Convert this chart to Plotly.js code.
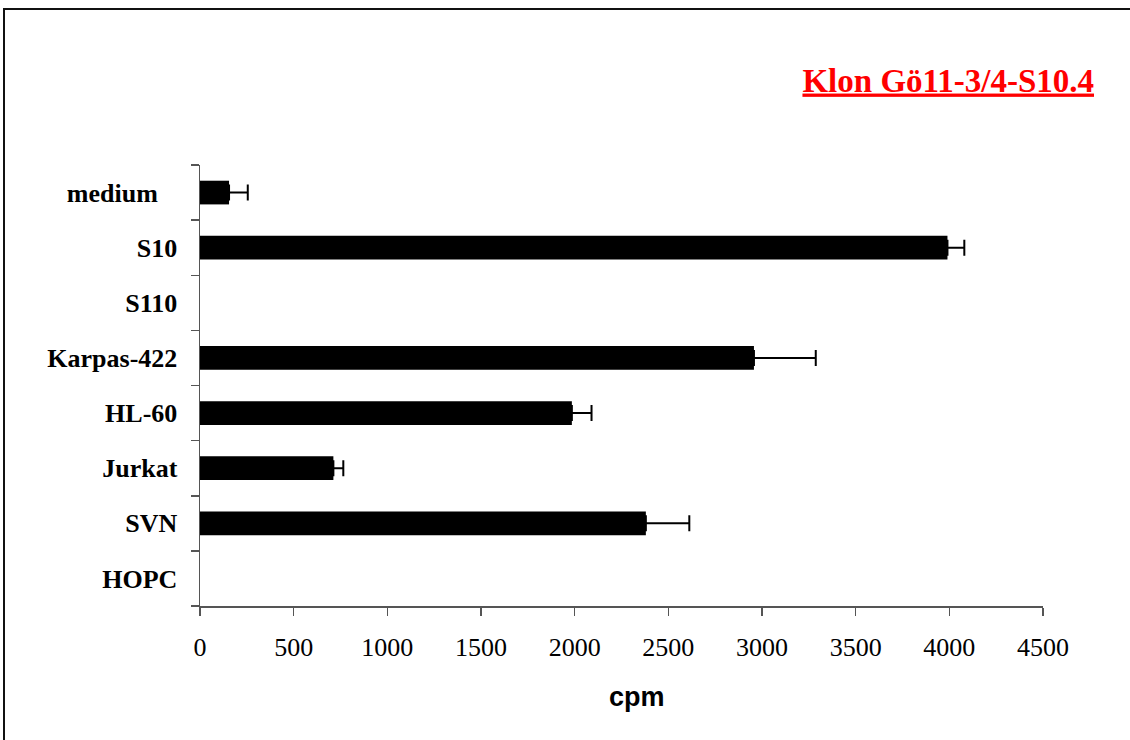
<!DOCTYPE html>
<html>
<head>
<meta charset="utf-8">
<script src="https://cdn.plot.ly/plotly-3.0.1.min.js"></script>
<style>html,body{margin:0;padding:0;background:#fff;}#chart{width:1130px;height:740px;}</style>
</head>
<body>
<div id="chart"></div>
<script>
const categories = ["medium", "S10", "S110", "Karpas-422", "HL-60", "Jurkat", "SVN", "HOPC"];
const categoryLabels = ["medium\u00a0\u00a0\u00a0", "S10", "S110", "Karpas-422", "HL-60", "Jurkat", "SVN", "HOPC"];
const cpmValues = [155, 3990, null, 2957, 1985, 712, 2380, null];
const cpmErrors = [100, 90, null, 330, 105, 53, 232, null];
const xTickValues = [0, 500, 1000, 1500, 2000, 2500, 3000, 3500, 4000, 4500];
const chartTitle = "Klon Gö11-3/4-S10.4";
const xAxisTitle = "cpm";

const trace = {
  type: "bar",
  orientation: "h",
  y: categories,
  x: cpmValues,
  width: 0.43,
  marker: {color: "#000000", line: {width: 0}},
  error_x: {type: "data", array: cpmErrors, symmetric: false, arrayminus: cpmErrors.map(() => 0), color: "#000000", thickness: 2, width: 8, visible: true},
  hoverinfo: "x+y"
};

const fx = px => (px - 200) / 843;
const fy = py => (606 - py) / 441;

const layout = {
  width: 1130, height: 740,
  margin: {l: 200, r: 87, t: 165, b: 134},
  paper_bgcolor: "#ffffff", plot_bgcolor: "#ffffff",
  showlegend: false,
  xaxis: {
    range: [0, 4500], tickvals: xTickValues, ticktext: xTickValues.map(String),
    showgrid: false, zeroline: false, showline: true, linecolor: "#555555", linewidth: 1.5,
    ticks: "outside", ticklen: 8, tickwidth: 1.5, tickcolor: "#555555",
    ticklabelstandoff: 9,
    tickfont: {family: "Liberation Serif", size: 26, color: "#000000"},
    fixedrange: true
  },
  yaxis: {
    type: "category", categoryorder: "array", categoryarray: categories,
    tickvals: categories, ticktext: categoryLabels,
    autorange: false, range: [7.5, -0.5],
    tickson: "boundaries",
    showgrid: false, zeroline: false, showline: true, linecolor: "#555555", linewidth: 1.5,
    ticks: "outside", ticklen: 8, tickwidth: 1.5, tickcolor: "#555555",
    ticklabelstandoff: 16,
    tickfont: {family: "Liberation Serif", size: 26, color: "#000000", weight: "bold"},
    fixedrange: true
  },
  title: {
    text: "<u>" + chartTitle + "</u>",
    xref: "container", yref: "container",
    x: 1094 / 1130, xanchor: "right",
    y: 1 - 80 / 740, yanchor: "middle",
    font: {family: "Liberation Serif", size: 33, color: "#ff0000", weight: "bold"}
  },
  annotations: [{
    text: xAxisTitle, xref: "paper", yref: "paper",
    x: fx(637), y: 0, yshift: -91,
    xanchor: "center", yanchor: "middle", showarrow: false,
    font: {family: "Liberation Sans", size: 27, color: "#000000", weight: "bold"}
  }],
  shapes: [{
    type: "path", xref: "paper", yref: "paper",
    path: "M " + fx(4) + "," + fy(760) + " L " + fx(4) + "," + fy(9) + " L " + fx(1150) + "," + fy(9),
    line: {color: "#111111", width: 2}, fillcolor: "rgba(0,0,0,0)", layer: "below"
  }]
};

Plotly.newPlot("chart", [trace], layout, {displayModeBar: false, staticPlot: true});
</script>
</body>
</html>
